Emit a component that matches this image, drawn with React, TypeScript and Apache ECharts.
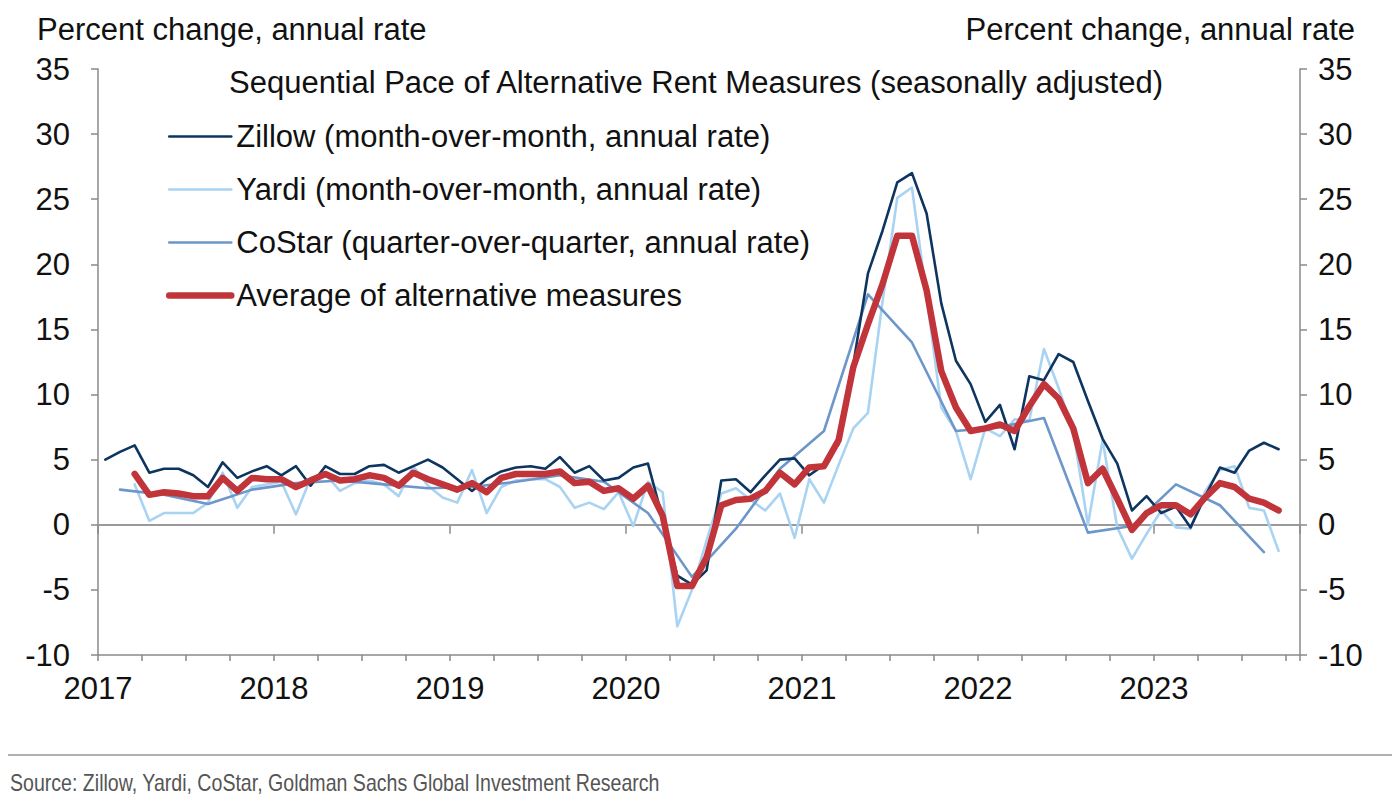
import React, { useEffect, useRef } from "react";
import * as echarts from "echarts";

// Monthly data, Jan 2017 .. Sep 2023 (Zillow), Mar 2017 .. Sep 2023 (Yardi, Average)
const zillowStartMonth = 0; // months since Jan 2017
const zillow = [
  5.0, 5.6, 6.1, 4.0, 4.3, 4.3, 3.8, 2.9, 4.8, 3.6, 4.1, 4.5,
  3.8, 4.5, 3.0, 4.5, 3.9, 3.9, 4.5, 4.6, 4.0, 4.5, 5.0, 4.4,
  3.5, 2.6, 3.5, 4.1, 4.4, 4.5, 4.3, 5.2, 4.0, 4.5, 3.4, 3.6,
  4.4, 4.7, 0.5, -3.9, -4.6, -3.5, 3.4, 3.5, 2.5, 3.8, 5.0, 5.1,
  3.8, 4.6, 6.2, 12.3, 19.3, 22.6, 26.3, 27.0, 23.9, 17.0, 12.6, 10.8,
  7.9, 9.2, 5.8, 11.4, 11.1, 13.1, 12.5, 9.5, 6.6, 4.7, 1.1, 2.2,
  0.9, 1.4, -0.2, 2.2, 4.4, 4.0, 5.7, 6.3, 5.8,
];

const yardiStartMonth = 2;
const yardi = [
  3.1, 0.3, 0.9, 0.9, 0.9, 1.7, 4.0, 1.3, 2.9, 3.1,
  3.3, 0.8, 3.6, 3.9, 2.6, 3.2, 3.4, 3.1, 2.2, 4.5, 3.0, 2.1,
  1.7, 4.2, 0.9, 2.9, 3.4, 3.5, 3.5, 2.9, 1.3, 1.7, 1.2, 2.5,
  -0.1, 3.3, 2.5, -7.8, -5.0, -1.2, 2.4, 2.8, 1.9, 1.1, 2.4, -1.0,
  3.5, 1.7, 4.6, 7.4, 8.6, 17.2, 25.1, 25.9, 17.5, 9.0, 7.2, 3.5,
  7.4, 6.8, 8.1, 8.0, 13.5, 10.5, 7.2, 0.0, 6.5, -0.2, -2.6, -0.7,
  1.1, -0.2, -0.3, 2.6, 4.2, 4.5, 1.3, 1.1, -2.0,
];

// Quarterly (plotted every third month from Feb 2017)
const costarStartMonth = 1;
const costarStep = 3;
const costar = [
  2.7, 2.3, 1.6, 2.7, 3.2, 3.4, 3.1, 2.8, 2.9, 3.3, 3.8, 3.3,
  0.9, -4.0, -0.3, 4.3, 7.2, 17.7, 14.0, 7.2, 7.5, 8.2, -0.6, -0.1,
  3.1, 1.5, -2.1,
];

const averageStartMonth = 2;
const average = [
  3.9, 2.3, 2.5, 2.4, 2.2, 2.2, 3.6, 2.6, 3.6, 3.5,
  3.5, 2.9, 3.4, 3.9, 3.4, 3.5, 3.8, 3.6, 3.0, 4.0, 3.5, 3.1,
  2.7, 3.2, 2.5, 3.6, 3.9, 3.9, 3.9, 4.1, 3.2, 3.3, 2.6, 2.8,
  2.0, 3.0, 0.7, -4.7, -4.7, -2.5, 1.5, 1.9, 2.0, 2.6, 4.0, 3.1,
  4.4, 4.5, 6.5, 12.1, 15.4, 18.5, 22.2, 22.2, 18.0, 11.8, 9.0, 7.2,
  7.4, 7.7, 7.2, 9.1, 10.8, 9.7, 7.4, 3.2, 4.3, 2.0, -0.4, 0.9,
  1.5, 1.5, 0.8, 2.1, 3.2, 2.9, 2.0, 1.7, 1.1,
];

const seriesNames = [
  "Zillow (month-over-month, annual rate)",
  "Yardi (month-over-month, annual rate)",
  "CoStar (quarter-over-quarter, annual rate)",
  "Average of alternative measures",
];
const seriesColors = ["#0d3560", "#a9d3f3", "#6d96cb", "#c0343a"];
const seriesWidths = [2.6, 2.6, 2.6, 6.5];

const firstYear = 2017;
const xMax = 2023.83;
const yMin = -10;
const yMax = 35;
const yStep = 5;

const titleText = "Sequential Pace of Alternative Rent Measures (seasonally adjusted)";
const axisTitle = "Percent change, annual rate";
const sourceText = "Source: Zillow, Yardi, CoStar, Goldman Sachs Global Investment Research";

const FONT = "'Liberation Sans', Arial, sans-serif";
const FS = 31;

const monthToX = (m: number) => firstYear + (m + 0.5) / 12;

const toPairs = (vals: number[], start: number, step = 1) =>
  vals.map((v, i) => [monthToX(start + i * step), v]);

function measure(text: string, font: string) {
  const c = document.createElement("canvas").getContext("2d");
  if (!c) return text.length * 10;
  c.font = font;
  return c.measureText(text).width;
}

export default function App() {
  const ref = useRef<HTMLDivElement>(null);

  useEffect(() => {
    if (!ref.current) return;
    const chart = echarts.init(ref.current, undefined, { renderer: "svg" });

    const axisColor = "#8a8a8a";
    const srcFontSize = 23;
    const srcWidth = measure(sourceText, `${srcFontSize}px Liberation Sans`);
    const srcScale = srcWidth > 0 ? 650 / srcWidth : 1;

    const yAxisCommon = {
      type: "value",
      min: yMin,
      max: yMax,
      interval: yStep,
      splitLine: { show: false },
      axisLine: { show: true, lineStyle: { color: axisColor, width: 1.5 } },
      axisTick: { show: true, inside: false, length: 7, lineStyle: { color: axisColor, width: 1.5 } },
    };

    const lineSeries = (idx: number, data: number[][], z: number) => ({
      name: seriesNames[idx],
      type: "line",
      data,
      symbol: "none",
      z,
      lineStyle: { color: seriesColors[idx], width: seriesWidths[idx], join: "round", cap: "round" },
      itemStyle: { color: seriesColors[idx] },
      emphasis: { disabled: true },
    });

    const zSeries: any = lineSeries(0, toPairs(zillow, zillowStartMonth), 4);
    zSeries.markLine = {
      silent: true,
      symbol: "none",
      label: { show: false },
      lineStyle: { color: "#9a9a9a", width: 1.8, type: "solid" },
      data: [{ yAxis: 0 }],
      z: 1,
    };

    chart.setOption({
      animation: false,
      backgroundColor: "#ffffff",
      textStyle: { fontFamily: FONT },
      title: {
        text: titleText,
        left: "center",
        top: 62,
        textStyle: { fontSize: FS, fontWeight: "normal", color: "#111", fontFamily: FONT },
      },
      legend: {
        orient: "vertical",
        left: 161,
        top: 116,
        itemWidth: 62,
        itemHeight: 14,
        itemGap: 22,
        data: seriesNames.map((name, i) => ({
          name,
          lineStyle: { width: seriesWidths[i], color: seriesColors[i], cap: "round" },
          itemStyle: { opacity: 0 },
        })),
        itemStyle: { opacity: 0 },
        textStyle: { fontSize: FS, color: "#111", fontFamily: FONT },
        selectedMode: false,
      },
      grid: { left: 98, right: 92, top: 69, bottom: 157, containLabel: false },
      xAxis: [
        {
          type: "value",
          min: firstYear,
          max: xMax,
          interval: 0.25,
          splitLine: { show: false },
          axisLine: { show: true, onZero: false, lineStyle: { color: axisColor, width: 1.5 } },
          axisTick: { show: true, inside: false, length: 6, lineStyle: { color: axisColor, width: 1.5 } },
          axisLabel: {
            fontSize: FS,
            color: "#111",
            margin: 18,
            fontFamily: FONT,
            formatter: (v: number) => (Math.abs(v - Math.round(v)) < 1e-6 ? String(Math.round(v)) : ""),
          },
        },
        {
          type: "value",
          min: firstYear,
          max: xMax,
          interval: 1,
          position: "bottom",
          splitLine: { show: false },
          axisLine: { show: false },
          axisTick: { show: true, inside: false, length: 9, lineStyle: { color: axisColor, width: 1.5 } },
          axisLabel: { show: false },
        },
      ],
      yAxis: [
        {
          ...yAxisCommon,
          position: "left",
          axisLabel: { fontSize: FS, color: "#111", margin: 28, fontFamily: FONT },
        },
        {
          ...yAxisCommon,
          position: "right",
          axisLabel: { fontSize: FS, color: "#111", margin: 18, fontFamily: FONT },
        },
      ],
      series: [
        zSeries,
        lineSeries(1, toPairs(yardi, yardiStartMonth), 2),
        lineSeries(2, toPairs(costar, costarStartMonth, costarStep), 3),
        lineSeries(3, toPairs(average, averageStartMonth), 5),
      ],
      graphic: [
        {
          type: "text",
          left: 37,
          top: 14,
          style: { text: axisTitle, fontSize: FS, fill: "#111", fontFamily: FONT },
        },
        {
          type: "text",
          right: 37,
          top: 14,
          style: { text: axisTitle, fontSize: FS, fill: "#111", fontFamily: FONT },
        },
        {
          type: "line",
          shape: { x1: 8, y1: 755, x2: 1392, y2: 755 },
          style: { stroke: "#b0b0b0", lineWidth: 2 },
        },
        {
          type: "text",
          x: 10,
          y: 783,
          scaleX: srcScale,
          style: {
            text: sourceText,
            fontSize: srcFontSize,
            fill: "#555",
            fontFamily: "'Liberation Sans', Arial, sans-serif",
            verticalAlign: "middle",
          },
        },
      ],
    });

    return () => chart.dispose();
  }, []);

  return (
    <div
      ref={ref}
      style={{ position: "fixed", left: 0, top: 0, width: 1392, height: 812, background: "#fff" }}
    />
  );
}
